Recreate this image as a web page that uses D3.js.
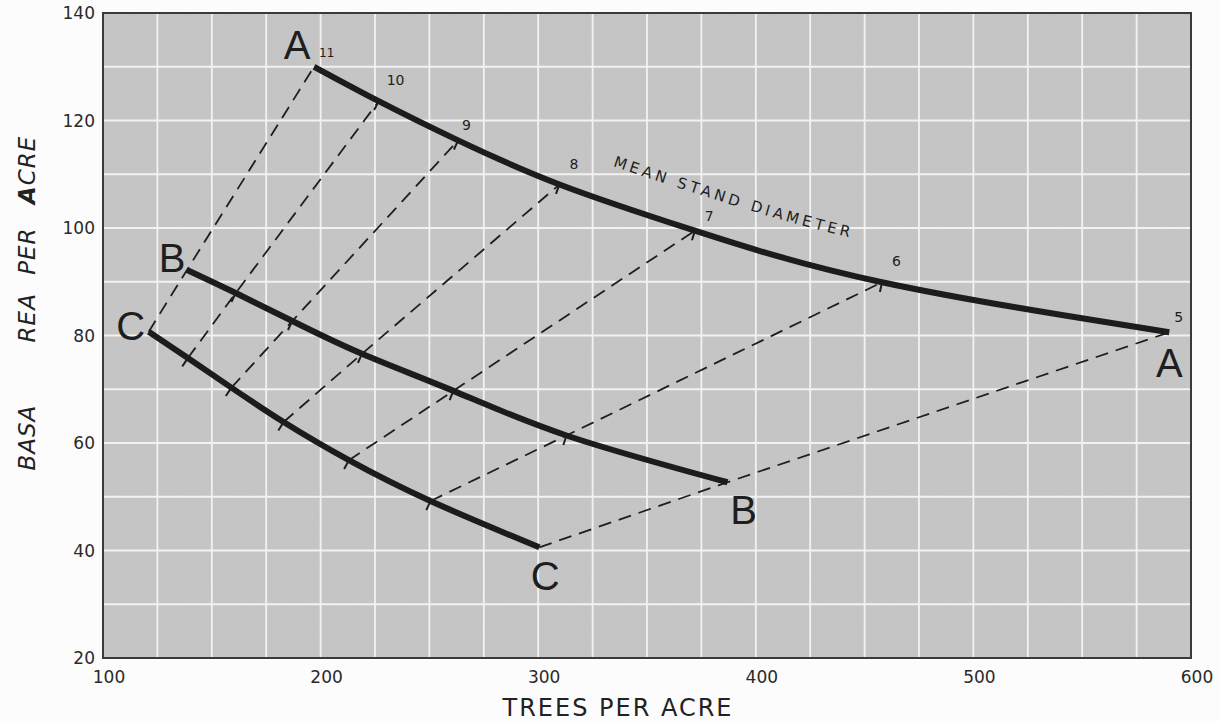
<!DOCTYPE html>
<meta charset="utf-8">
<style>
body { margin: 0; background: #fcfcfc; }
svg { display: block; }
.tick-label { font: 17px "DejaVu Sans", sans-serif; fill: #2a2a2a; }
.curve { fill: none; stroke: #1c1c1c; stroke-width: 6px; stroke-linecap: butt; stroke-linejoin: round; }
.ray { fill: none; stroke: #1e1e1e; stroke-width: 1.8px; stroke-dasharray: 13 8; }
.mark { stroke: #1e1e1e; stroke-width: 2px; }
.grid line { stroke: #f2f2f2; stroke-width: 1.8px; }
.big { font: 40px "Liberation Sans", sans-serif; fill: #1e1e1e; text-anchor: middle; }
.num { font: 14px "DejaVu Sans", sans-serif; fill: #1e1e1e; }
</style>
<body>
<script src="https://d3js.org/d3.v7.min.js"></script>
<script>

// stand diameter (inches) at each marked point
var diameters = [11, 10, 9, 8, 7, 6, 5];

// curve A
var treesA = [197, 226.7, 263.2, 309.8, 372, 458, 590];
var basalA = [130, 123.6, 116.3, 108.1, 99.5, 89.9, 80.6];
// curve B
var treesB = [138.6, 161, 187, 219, 261, 313, 387];
var basalB = [92.2, 87.9, 82.7, 76.6, 69.7, 61.4, 52.7];
// curve C
var treesC = [121, 139, 159, 183, 213, 250.5, 300.5];
var basalC = [80.7, 75.8, 70.3, 63.9, 56.8, 49.2, 40.6];

var xTicks = [100, 200, 300, 400, 500, 600];
var yTicks = [20, 40, 60, 80, 100, 120, 140];

var width = 1220, height = 721;

var x = d3.scaleLinear().domain([100, 600]).range([103, 1191]);
var y = d3.scaleLinear().domain([20, 140]).range([658, 13]);

function pts(tr, ba) {
  return tr.map(function(t, i) { return {t: t, b: ba[i], d: diameters[i]}; });
}
var A = pts(treesA, basalA), B = pts(treesB, basalB), C = pts(treesC, basalC);

var svg = d3.select("body").append("svg")
    .attr("width", width)
    .attr("height", height);

var defs = svg.append("defs");
var f = defs.append("filter").attr("id", "grain").attr("x", 0).attr("y", 0).attr("width", "100%").attr("height", "100%");
f.append("feTurbulence").attr("type", "fractalNoise").attr("baseFrequency", 0.8).attr("numOctaves", 2).attr("seed", 3);
f.append("feColorMatrix").attr("type", "matrix")
    .attr("values", "0 0 0 0 0.5  0 0 0 0 0.5  0 0 0 0 0.5  0 0 0 0.35 0");

// plot background
svg.append("rect")
    .attr("x", x(100)).attr("y", y(140))
    .attr("width", x(600) - x(100)).attr("height", y(20) - y(140))
    .attr("fill", "#c6c6c6");

svg.append("rect")
    .attr("x", x(100)).attr("y", y(140))
    .attr("width", x(600) - x(100)).attr("height", y(20) - y(140))
    .attr("filter", "url(#grain)")
    .attr("opacity", 0.6);

// white grid
var grid = svg.append("g").attr("class", "grid");
grid.selectAll(".gx").data(d3.range(125, 600, 25)).enter().append("line")
    .attr("x1", function(d) { return x(d); }).attr("x2", function(d) { return x(d); })
    .attr("y1", y(140)).attr("y2", y(20));
grid.selectAll(".gy").data(d3.range(30, 140, 10)).enter().append("line")
    .attr("y1", function(d) { return y(d); }).attr("y2", function(d) { return y(d); })
    .attr("x1", x(100)).attr("x2", x(600));

// frame
svg.append("rect")
    .attr("x", x(100)).attr("y", y(140))
    .attr("width", x(600) - x(100)).attr("height", y(20) - y(140))
    .attr("fill", "none").attr("stroke", "#3a3a3a").attr("stroke-width", 2);

// tick labels
svg.append("g").selectAll("text").data(xTicks).enter().append("text")
    .attr("class", "tick-label")
    .attr("x", function(d) { return x(d) + 6; })
    .attr("y", y(20) + 25)
    .attr("text-anchor", "middle")
    .text(function(d) { return d; });

svg.append("g").selectAll("text").data(yTicks).enter().append("text")
    .attr("class", "tick-label")
    .attr("x", x(100) - 8)
    .attr("y", function(d) { return y(d) + 6; })
    .attr("text-anchor", "end")
    .text(function(d) { return d; });

// axis titles
svg.append("text")
    .attr("x", 618).attr("y", 716)
    .attr("text-anchor", "middle")
    .style("font", "24px 'DejaVu Sans', sans-serif")
    .style("letter-spacing", "2px")
    .attr("fill", "#222")
    .text("TREES  PER  ACRE");

var yTitle = [
  {t: "BASA", v: 61},
  {t: "REA", v: 83.3},
  {t: "PER", v: 95.7},
  {t: "ACRE", v: 110.8, bold: true}
];
svg.append("g").selectAll("text").data(yTitle).enter().append("text")
    .attr("transform", function(d) { return "translate(35," + y(d.v) + ") rotate(-90)"; })
    .attr("text-anchor", "middle")
    .style("font", "italic 23px 'DejaVu Sans', sans-serif")
    .style("letter-spacing", "1px")
    .attr("fill", "#222")
    .each(function(d) {
      var s = d3.select(this);
      if (d.bold) {
        s.append("tspan").style("font-weight", "bold").text(d.t[0]);
        s.append("tspan").text(d.t.slice(1));
      } else s.text(d.t);
    });

// dashed lines of equal diameter, C -> B -> A
var rays = diameters.map(function(d, i) { return [C[i], B[i], A[i]]; });
var rayLine = d3.line().x(function(p) { return x(p.t); }).y(function(p) { return y(p.b); });
svg.append("g").selectAll("path").data(rays).enter().append("path")
    .attr("class", "ray")
    .attr("d", rayLine);

// curves
var curveLine = d3.line()
    .x(function(p) { return x(p.t); })
    .y(function(p) { return y(p.b); })
    .curve(d3.curveNatural);

[A, B, C].forEach(function(s) {
  svg.append("path").datum(s).attr("class", "curve").attr("d", curveLine);
});

// short marks hanging below each curve where a dashed line meets it
[A, B, C].forEach(function(s) {
  var inner = s.slice(1, -1);
  svg.append("g").selectAll("line").data(inner).enter().append("line")
      .attr("class", "mark")
      .each(function(p, i) {
        var a = s[i], b = s[i + 2];
        var dx = x(b.t) - x(a.t), dy = y(b.b) - y(a.b), L = Math.hypot(dx, dy);
        var nx = -dy / L, ny = dx / L;
        d3.select(this)
            .attr("x1", x(p.t)).attr("y1", y(p.b))
            .attr("x2", x(p.t) + nx * 10).attr("y2", y(p.b) + ny * 10);
      });
});

// diameter numbers along A
var numOffsets = [[5, -10], [8, -16], [4, -10], [10, -15], [10, -10], [10, -16], [5, -10]];
svg.append("g").selectAll("text").data(A).enter().append("text")
    .attr("class", "num")
    .attr("x", function(p, i) { return x(p.t) + numOffsets[i][0]; })
    .attr("y", function(p, i) { return y(p.b) + numOffsets[i][1]; })
    .style("font-size", function(p) { return p.d === 11 ? "12px" : "14px"; })
    .text(function(p) { return p.d; });

// curve letters
var letters = [
  {t: "A", p: A[0], dx: -17, dy: -8},
  {t: "A", p: A[6], dx: 0, dy: 45},
  {t: "B", p: B[0], dx: -15, dy: 2},
  {t: "B", p: B[6], dx: 16, dy: 42},
  {t: "C", p: C[0], dx: -18, dy: 8},
  {t: "C", p: C[6], dx: 6, dy: 43}
];
svg.append("g").selectAll("text").data(letters).enter().append("text")
    .attr("class", "big")
    .attr("x", function(d) { return x(d.p.t) + d.dx; })
    .attr("y", function(d) { return y(d.p.b) + d.dy; })
    .text(function(d) { return d.t; });

// label following curve A
var guide = A.map(function(p) { return {t: p.t, b: p.b + 7}; });
var guidePath = defs.append("path").attr("id", "guide").attr("d", curveLine(guide));
var node = guidePath.node(), total = node.getTotalLength(), start = 0;
for (var l = 0; l < total; l += 1) {
  if (node.getPointAtLength(l).x >= 612) { start = l; break; }
}
svg.append("text")
    .style("font", "15px 'DejaVu Sans', sans-serif")
    .style("letter-spacing", "1px")
    .attr("fill", "#1e1e1e")
  .append("textPath")
    .attr("href", "#guide")
    .attr("startOffset", start)
    .attr("textLength", 248)
    .text("MEAN STAND DIAMETER");

</script>
